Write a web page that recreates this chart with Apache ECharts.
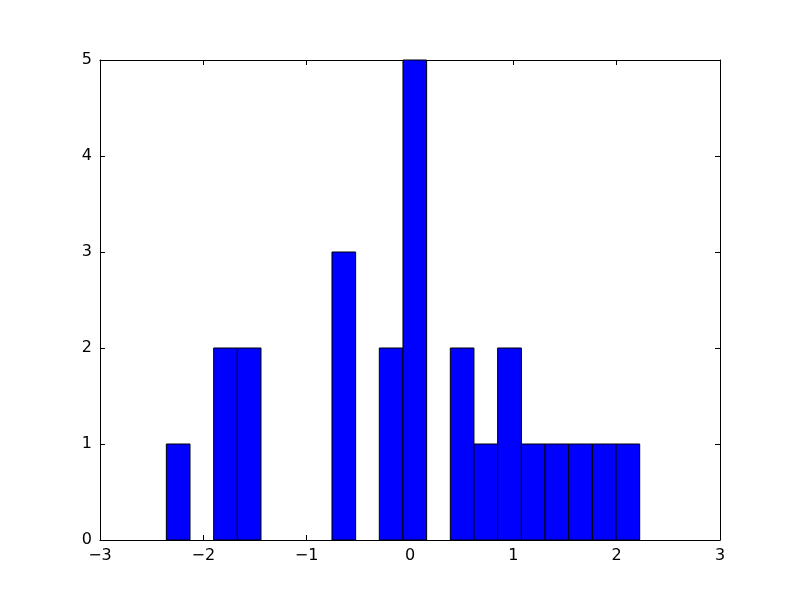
<!DOCTYPE html>
<html>
<head>
<meta charset="utf-8">
<script src="https://cdn.jsdelivr.net/npm/echarts@6/dist/echarts.min.js"></script>
<style>html,body{margin:0;padding:0;background:#fff;}#c{width:800px;height:600px;}</style>
</head>
<body>
<div id="c"></div>
<script>
// Histogram bin edges (21 edges -> 20 bins)
const binEdges = [-2.358, -2.129, -1.900, -1.671, -1.442, -1.213, -0.984, -0.755, -0.526, -0.297,
                  -0.068, 0.161, 0.390, 0.619, 0.848, 1.078, 1.307, 1.536, 1.765, 1.994, 2.223];
// Counts per bin
const binCounts = [1, 0, 2, 2, 0, 0, 0, 3, 0, 2, 5, 0, 2, 1, 2, 1, 1, 1, 1, 1];
const xTicks = [-3, -2, -1, 0, 1, 2, 3];
const yTicks = [0, 1, 2, 3, 4, 5];

const data = [];
for (let i = 0; i < binCounts.length; i++) {
  if (binCounts[i] > 0) data.push([binEdges[i], binEdges[i + 1], binCounts[i]]);
}

const fmt = v => String(v).replace('-', '\u2212');
const font = {fontFamily: 'DejaVu Sans', fontSize: 16, color: '#000'};
const lineStyle = {color: '#000', width: 1};

const chart = echarts.init(document.getElementById('c'), null, {renderer: 'canvas'});
chart.setOption({
  backgroundColor: '#fff',
  animation: false,
  grid: {left: 100, right: 80, top: 60, bottom: 60, containLabel: false},
  xAxis: [
    {type: 'value', min: xTicks[0], max: xTicks[xTicks.length - 1], interval: 1, position: 'bottom',
     axisLine: {show: true, onZero: false, lineStyle}, axisTick: {show: true, inside: true, length: 5, lineStyle},
     axisLabel: Object.assign({formatter: fmt, margin: 8}, font), splitLine: {show: false}},
    {type: 'value', min: xTicks[0], max: xTicks[xTicks.length - 1], interval: 1, position: 'top',
     axisLine: {show: true, onZero: false, lineStyle}, axisTick: {show: true, inside: true, length: 5, lineStyle},
     axisLabel: {show: false}, splitLine: {show: false}}
  ],
  yAxis: [
    {type: 'value', min: yTicks[0], max: yTicks[yTicks.length - 1], interval: 1, position: 'left',
     axisLine: {show: true, onZero: false, lineStyle}, axisTick: {show: true, inside: true, length: 5, lineStyle},
     axisLabel: Object.assign({formatter: fmt, margin: 8}, font), splitLine: {show: false}},
    {type: 'value', min: yTicks[0], max: yTicks[yTicks.length - 1], interval: 1, position: 'right',
     axisLine: {show: true, onZero: false, lineStyle}, axisTick: {show: true, inside: true, length: 5, lineStyle},
     axisLabel: {show: false}, splitLine: {show: false}}
  ],
  series: [{
    type: 'custom',
    xAxisIndex: 0, yAxisIndex: 0,
    data: data,
    encode: {x: [0, 1], y: 2},
    renderItem: function (params, api) {
      const x0 = api.value(0), x1 = api.value(1), c = api.value(2);
      const p0 = api.coord([x0, c]);
      const p1 = api.coord([x1, 0]);
      return {
        type: 'rect',
        shape: {x: p0[0], y: p0[1], width: p1[0] - p0[0], height: p1[1] - p0[1]},
        style: {fill: '#0000ff', stroke: '#000', lineWidth: 1}
      };
    }
  }]
});
</script>
</body>
</html>
